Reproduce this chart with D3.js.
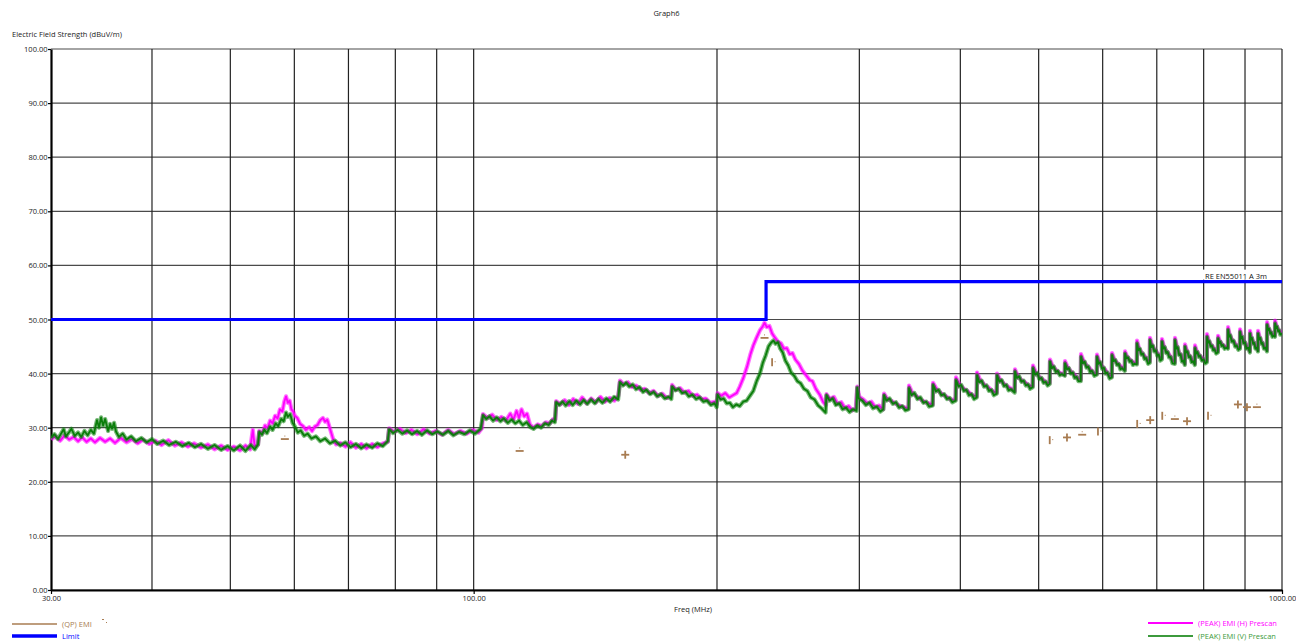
<!doctype html>
<html lang="en">
<head>
<meta charset="utf-8">
<style>
    body { margin: 0; background: #fff; }
    svg { display: block; font-family: "Open Sans", "Noto Sans", sans-serif; }
</style>
</head>
<body>
<div class="chart"></div>

<script src="https://d3js.org/d3.v7.min.js"></script>
<script>

    // ---- data (MHz, dBuV/m) ----

    let yTicks = [0, 10, 20, 30, 40, 50, 60, 70, 80, 90, 100];
    let xTicks = [30, 100, 1000];
    let xGrid = [40, 50, 60, 70, 80, 90, 100, 200, 300, 400, 500, 600, 700, 800, 900, 1000];

    let limitSteps = [[30, 50], [230, 50], [230, 57], [1000, 57]];
    let limitName = 'RE EN55011 A 3m';

    // (PEAK) EMI (H) Prescan
    let peakH = [
        [30.0, 27.9], [30.4, 28.4], [30.8, 27.6], [31.2, 28.6], [31.6, 27.8], [32.0, 28.3], [32.4, 27.5], [32.8, 28.2],
        [33.2, 27.4], [33.6, 28.0], [34.0, 27.3], [34.5, 28.1], [35.0, 27.4], [35.5, 28.0], [36.0, 27.2], [36.6, 28.1],
        [37.2, 27.3], [37.8, 27.9], [38.4, 27.1], [39.0, 27.8], [39.7, 27.0], [40.4, 27.6], [41.1, 26.8], [41.9, 27.7],
        [42.7, 26.7], [43.5, 27.3], [44.3, 26.5], [45.1, 27.1], [46.0, 26.3], [46.9, 26.9], [47.8, 26.0], [48.7, 26.7],
        [49.6, 25.9], [50.5, 26.5], [51.4, 25.8], [52.2, 26.7], [52.9, 26.0], [53.3, 29.6], [53.6, 26.5], [54.1, 26.9],
        [54.3, 29.4], [54.8, 29.0], [55.2, 30.4], [55.6, 29.9], [56.0, 31.3], [56.4, 30.8], [56.8, 32.2], [57.2, 31.7],
        [57.6, 33.4], [58.0, 33.0], [58.3, 34.8], [58.6, 35.8], [58.9, 34.6], [59.2, 35.0], [59.5, 33.4], [59.8, 33.0],
        [60.1, 32.2], [60.5, 31.8], [61.0, 30.7], [61.5, 30.3], [62.0, 29.6], [62.6, 30.1], [63.1, 29.4], [63.6, 30.2],
        [64.1, 30.5], [64.6, 31.4], [65.1, 31.8], [65.5, 31.1], [65.9, 31.5], [66.3, 30.2], [66.7, 28.9], [67.1, 27.6],
        [67.6, 26.9], [68.4, 27.2], [69.4, 26.5], [70.4, 27.3], [71.5, 26.3], [72.6, 27.0], [73.7, 26.2], [74.9, 27.0],
        [76.0, 26.4], [77.2, 27.1], [78.3, 27.4],
        [78.6, 29.9], [79.8, 29.2], [81.0, 29.8], [82.4, 29.0], [83.8, 29.6], [85.2, 28.8], [86.7, 29.7], [88.2, 28.9],
        [89.8, 29.4], [91.4, 28.7], [93.0, 29.6], [94.6, 28.8], [96.3, 29.4], [98.0, 28.9], [99.7, 29.6], [101.4, 29.1],
        [102.4, 29.9],
        [102.7, 32.5], [104.0, 31.8], [105.4, 32.4], [106.8, 31.4], [108.2, 32.0], [109.6, 31.3], [111.0, 32.6], [112.0, 31.5],
        [113.0, 33.1], [113.8, 31.8], [114.6, 33.4], [115.5, 32.1], [116.4, 32.6], [117.4, 30.6], [118.6, 30.0], [120.0, 30.6],
        [121.4, 30.3], [122.8, 31.0], [124.2, 30.8], [125.4, 31.6], [126.2, 31.5],
        [126.5, 34.9], [128.0, 34.3], [129.6, 35.1], [131.2, 34.2], [132.8, 35.3], [134.5, 34.4], [136.2, 35.6], [138.0, 34.5],
        [139.8, 35.4], [141.6, 34.7], [143.5, 35.7], [145.4, 34.8], [147.3, 35.5], [149.3, 35.0], [151.0, 35.9],
        [151.7, 38.7], [153.4, 38.0], [155.2, 38.4], [157.0, 37.5], [158.9, 37.8], [160.8, 37.0], [162.8, 37.2], [164.8, 36.4],
        [166.9, 36.8], [169.0, 35.9], [171.1, 36.3], [173.3, 35.5], [175.5, 35.8],
        [176.0, 37.9], [178.0, 37.0], [180.1, 37.3], [182.2, 36.5], [184.4, 36.8], [186.7, 35.9], [189.0, 36.1], [191.3, 35.3],
        [193.7, 35.4], [196.2, 34.6], [198.7, 34.8], [199.9, 34.3],
        [200.3, 36.4], [202.5, 35.9], [204.8, 36.4], [207.1, 35.6], [209.3, 36.0], [211.5, 36.4], [213.4, 37.6], [215.6, 39.2],
        [218.0, 41.4], [220.0, 43.6], [221.8, 45.2], [223.8, 46.6], [226.0, 48.0], [227.6, 48.6], [229.0, 49.4], [230.5, 48.6],
        [232.2, 48.8], [234.0, 47.4], [236.0, 46.6], [238.0, 45.9], [240.0, 45.6], [242.0, 44.6], [244.0, 44.7], [246.0, 43.6],
        [248.0, 43.8], [250.0, 42.6], [252.5, 41.8], [255.0, 40.6], [258.0, 39.6], [260.5, 38.8], [262.5, 38.6], [265.0, 37.2],
        [268.0, 36.1], [270.5, 34.8], [272.6, 34.2],
        [273.2, 36.2], [276.0, 35.3], [279.0, 35.7], [282.0, 34.4], [285.0, 34.7], [288.0, 33.6], [291.0, 34.0], [294.0, 33.2],
        [297.0, 33.6],
        [298.2, 37.6], [300.0, 35.7], [303.5, 35.2], [307.0, 34.5], [310.5, 34.8], [314.0, 33.8], [317.5, 34.1], [321.0, 33.4],
        [321.9, 36.3], [325, 35.3], [330, 34.8], [335, 34.2], [340, 33.8], [345.2, 33.6],
        [345.6, 37.8], [349, 36.4], [354, 35.7], [359, 35.0], [364, 34.6], [369.7, 34.3],
        [370.1, 38.3], [374, 37.1], [379, 36.3], [384, 35.8], [389, 35.2], [394.7, 35.2],
        [395.1, 39.3], [399, 38.0], [404, 37.2], [409, 36.7], [414, 36.0], [419.1, 35.8],
        [419.5, 40.2], [423, 38.9], [428, 38.0], [433, 37.5], [438, 36.8], [443.7, 36.5],
        [444.1, 40.0], [448, 38.9], [453, 38.1], [458, 37.6], [467.0, 36.8],
        [467.4, 40.8], [471, 39.6], [476, 38.8], [481, 38.4], [486, 37.8], [491.6, 37.7],
        [492.0, 41.5], [496, 40.2], [501, 39.4], [506, 38.9], [511, 38.3], [516.0, 38.3],
        [516.4, 42.6], [520, 41.5], [525, 40.7], [530, 40.2], [538.6, 39.8],
        [539.0, 42.3], [543, 41.2], [548, 40.4], [553, 39.9], [558, 39.2], [563.7, 38.9],
        [564.1, 43.6], [568, 42.4], [573, 41.5], [578, 41.0], [584, 40.2], [590.0, 40.0],
        [590.4, 43.5], [594, 42.3], [599, 41.3], [604, 40.8], [610, 39.8], [615.8, 39.5],
        [616.2, 43.8], [620, 42.7], [625, 42.0], [630, 41.5], [639.1, 40.8],
        [639.5, 44.1], [643, 43.2], [648, 42.6], [653, 42.2], [661.3, 41.9],
        [661.7, 46.1], [665, 44.8], [670, 43.9], [675, 43.4], [681, 42.6], [686.2, 42.3],
        [686.6, 46.6], [690, 45.4], [695, 44.5], [700, 44.0], [705, 43.2], [710.1, 42.9],
        [710.5, 46.4], [714, 45.1], [719, 44.2], [724, 43.7], [730, 42.8], [736.9, 42.1],
        [737.3, 46.6], [741, 45.1], [746, 43.8], [751, 43.3], [758.2, 41.9],
        [758.6, 45.4], [762, 44.4], [767, 43.4], [772, 42.9], [780.2, 41.9],
        [780.6, 45.2], [784, 44.2], [789, 43.5], [795, 43.0], [801, 42.4], [807.3, 42.4],
        [807.7, 47.3], [811, 46.2], [816, 45.4], [821, 45.0], [827, 44.3], [833.1, 44.2],
        [833.5, 47.0], [837, 46.1], [842, 45.5], [848, 45.1], [857.2, 44.9],
        [857.6, 48.6], [861, 47.3], [867, 46.3], [873, 45.8], [880, 45.0], [887.0, 44.9],
        [887.4, 48.2], [891, 47.0], [896, 46.0], [902, 45.5], [912.6, 44.2],
        [913.0, 47.9], [916, 46.8], [921, 45.9], [926, 45.4], [933.7, 44.4],
        [934.1, 47.9], [938, 46.8], [943, 45.9], [949, 45.3], [958.0, 44.4],
        [958.4, 49.5], [962, 48.5], [967, 47.8], [972, 47.4], [980.1, 47.1],
        [980.5, 49.8], [984, 48.9], [989, 48.2], [994, 47.8], [1000, 47.7]
    ];

    // (PEAK) EMI (V) Prescan
    let peakV = [
        [30.0, 28.1], [30.3, 28.8], [30.6, 27.9], [30.9, 29.0], [31.1, 29.7], [31.3, 28.4], [31.6, 29.2], [31.8, 29.8],
        [32.1, 28.5], [32.4, 29.1], [32.7, 28.3], [33.0, 29.4], [33.3, 28.6], [33.6, 29.6], [33.9, 28.9], [34.2, 31.4],
        [34.4, 30.0], [34.6, 31.9], [34.8, 30.4], [35.0, 31.6], [35.3, 29.4], [35.5, 30.7], [35.7, 29.8], [35.9, 30.9],
        [36.1, 29.3], [36.4, 28.3], [36.8, 28.9], [37.2, 27.8], [37.7, 28.4], [38.2, 27.5], [38.8, 28.1], [39.4, 27.3],
        [40.0, 27.9], [40.6, 27.0], [41.3, 27.6], [42.0, 26.8], [42.8, 27.4], [43.6, 26.6], [44.4, 27.2], [45.2, 26.4],
        [46.0, 27.0], [46.9, 26.1], [47.8, 26.8], [48.7, 25.9], [49.6, 26.6], [50.5, 25.8], [51.4, 26.7], [52.2, 25.7],
        [53.0, 26.8], [53.6, 26.0], [54.1, 26.9],
        [54.3, 29.2], [54.7, 28.7], [55.1, 29.6], [55.5, 29.0], [56.0, 30.2], [56.4, 29.6], [56.9, 30.8], [57.3, 30.3],
        [57.8, 31.6], [58.2, 31.2], [58.6, 32.8], [58.9, 32.0], [59.3, 32.5], [59.7, 30.9], [60.1, 30.2], [60.6, 29.1],
        [61.1, 29.5], [61.7, 28.5], [62.3, 28.9], [63.0, 28.0], [63.8, 28.4], [64.6, 27.5], [65.5, 28.0], [66.4, 27.1],
        [67.4, 27.6], [68.4, 26.7], [69.4, 27.3], [70.4, 26.4], [71.5, 27.0], [72.6, 26.2], [73.7, 26.9], [74.9, 26.3],
        [76.0, 27.1], [77.2, 26.6], [78.3, 27.5],
        [78.6, 29.7], [79.5, 29.0], [80.5, 29.6], [81.6, 28.9], [82.7, 29.5], [83.9, 28.8], [85.1, 29.4], [86.3, 28.7],
        [87.6, 29.5], [88.9, 28.8], [90.2, 29.3], [91.6, 28.7], [93.0, 29.4], [94.4, 28.6], [95.9, 29.2], [97.4, 28.8],
        [98.9, 29.5], [100.4, 28.9], [102.0, 29.8],
        [102.7, 32.3], [103.6, 31.6], [104.6, 32.1], [105.7, 31.3], [106.8, 31.9], [107.9, 31.2], [109.0, 31.7], [110.2, 30.9],
        [111.4, 31.5], [112.6, 30.8], [113.8, 31.3], [115.0, 30.5], [116.3, 31.0], [117.5, 30.1], [118.6, 29.8], [119.9, 30.4],
        [121.2, 30.0], [122.5, 30.8], [123.8, 30.5], [125.0, 31.3], [126.0, 31.0],
        [126.5, 34.7], [127.6, 34.2], [128.8, 34.8], [130.0, 34.1], [131.3, 34.9], [132.6, 34.2], [134.0, 35.0], [135.4, 34.3],
        [136.8, 35.1], [138.2, 34.4], [139.7, 35.2], [141.2, 34.5], [142.7, 35.3], [144.3, 34.6], [145.9, 35.4], [147.5, 34.8],
        [149.2, 35.7], [150.9, 35.2],
        [151.7, 38.4], [153.0, 37.8], [154.4, 38.3], [155.8, 37.6], [157.3, 38.0], [158.8, 37.1], [160.4, 37.5], [162.0, 36.6],
        [163.6, 37.0], [165.3, 36.2], [167.0, 36.6], [168.7, 35.8], [170.5, 36.2], [172.3, 35.4], [174.2, 35.7], [175.6, 35.3],
        [176.0, 37.6], [177.6, 36.9], [179.3, 37.2], [181.0, 36.4], [182.8, 36.6], [184.6, 35.8], [186.5, 36.1], [188.4, 35.3],
        [190.4, 35.6], [192.4, 34.8], [194.4, 35.0], [196.5, 34.2], [198.6, 34.5], [199.8, 33.8],
        [200.3, 36.1], [202.0, 35.2], [203.8, 35.4], [205.6, 34.5], [207.4, 34.6], [209.3, 33.8], [211.3, 34.3], [213.4, 34.0],
        [215.5, 34.8], [217.6, 35.0], [219.7, 35.9], [221.8, 36.8], [223.9, 38.6], [226.0, 40.0], [227.9, 42.0], [229.8, 43.4],
        [231.6, 45.0], [233.3, 45.7], [234.8, 46.1], [236.3, 45.5], [237.9, 45.8], [239.5, 44.6], [241.2, 43.9], [243.0, 42.4],
        [245.0, 41.5], [247.0, 40.2], [249.2, 39.6], [251.5, 38.6], [253.8, 38.2], [256.2, 37.2], [258.7, 36.8], [261.3, 35.6],
        [264.0, 35.2], [266.8, 34.1], [269.7, 33.5], [272.5, 32.8],
        [273.2, 36.0], [275.5, 35.0], [278.0, 35.4], [280.6, 34.2], [283.3, 34.5], [286.0, 33.4], [288.8, 33.7], [291.7, 32.9],
        [294.6, 33.4], [297.6, 33.1],
        [298.2, 37.4], [299.5, 35.4], [302.5, 35.0], [305.6, 34.2], [308.7, 34.6], [311.9, 33.6], [315.2, 33.9], [318.5, 33.0],
        [321.2, 33.4],
        [321.9, 36.0], [324, 35.0], [327, 35.4], [330, 34.4], [333, 34.7], [336, 33.7], [339, 34.0], [342, 33.2], [345.2, 33.4],
        [345.6, 37.3], [348, 36.0], [351, 36.4], [354, 35.3], [357, 35.6], [360, 34.6], [363, 34.8], [366, 33.9], [369.7, 34.1],
        [370.1, 37.9], [373, 36.7], [376, 37.0], [379, 36.0], [382, 36.2], [385, 35.3], [388, 35.5], [391, 34.7], [394.7, 35.0],
        [395.1, 38.8], [398, 37.6], [401, 37.9], [404, 36.8], [407, 37.0], [410, 36.0], [413, 36.2], [416, 35.3], [419.1, 35.6],
        [419.5, 39.7], [422, 38.4], [425, 38.7], [428, 37.6], [431, 37.8], [434, 36.8], [437, 37.0], [440, 36.0], [443.7, 36.3],
        [444.1, 39.7], [447, 38.5], [450, 38.8], [453, 37.7], [456, 37.9], [459, 36.9], [462, 37.1], [467.0, 36.5],
        [467.4, 40.4], [470, 39.2], [473, 39.5], [476, 38.5], [479, 38.7], [482, 37.8], [485, 38.0], [488, 37.2], [491.6, 37.5],
        [492.0, 41.0], [495, 39.8], [498, 40.1], [501, 39.0], [504, 39.2], [507, 38.3], [510, 38.5], [513, 37.8], [516.0, 38.1],
        [516.4, 42.2], [519, 41.0], [522, 41.3], [525, 40.3], [528, 40.5], [531, 39.7], [534, 39.9], [538.6, 39.6],
        [539.0, 41.9], [542, 40.8], [545, 41.0], [548, 40.0], [551, 40.2], [554, 39.2], [557, 39.4], [560, 38.6], [563.7, 38.6],
        [564.1, 43.1], [567, 41.9], [570, 42.2], [573, 41.1], [576, 41.3], [579, 40.3], [582, 40.5], [586, 39.6], [590.0, 39.8],
        [590.4, 43.1], [593, 41.8], [596, 42.1], [599, 40.9], [602, 41.1], [605, 40.0], [608, 40.2], [612, 39.1], [615.8, 39.3],
        [616.2, 43.4], [619, 42.3], [622, 42.5], [625, 41.6], [628, 41.8], [631, 40.8], [634, 41.0], [639.1, 40.5],
        [639.5, 43.7], [642, 42.8], [645, 43.0], [648, 42.2], [651, 42.4], [654, 41.6], [657, 41.8], [661.3, 41.7],
        [661.7, 45.6], [664, 44.3], [667, 44.6], [670, 43.5], [673, 43.7], [676, 42.7], [679, 42.9], [683, 41.8], [686.2, 42.0],
        [686.6, 46.2], [689, 44.9], [692, 45.2], [695, 44.1], [698, 44.3], [701, 43.3], [704, 43.5], [707, 42.4], [710.1, 42.6],
        [710.5, 45.9], [713, 44.6], [716, 44.9], [719, 43.8], [722, 44.0], [725, 43.0], [728, 43.1], [732, 41.9], [736.9, 41.8],
        [737.3, 46.2], [740, 44.6], [743, 44.9], [746, 43.4], [749, 43.6], [752, 42.2], [755, 42.4], [758.2, 41.6],
        [758.6, 45.0], [761, 43.9], [764, 44.1], [767, 43.0], [770, 43.2], [773, 42.1], [776, 42.3], [780.2, 41.6],
        [780.6, 44.7], [783, 43.7], [786, 44.0], [789, 43.1], [792, 43.3], [796, 42.4], [800, 42.6], [804, 41.9], [807.3, 42.1],
        [807.7, 46.8], [810, 45.7], [813, 46.0], [816, 45.0], [819, 45.2], [822, 44.3], [825, 44.5], [829, 43.7], [833.1, 43.9],
        [833.5, 46.5], [836, 45.6], [839, 45.9], [842, 45.1], [845, 45.3], [849, 44.6], [853, 44.8], [857.2, 44.6],
        [857.6, 48.1], [860, 46.8], [863, 47.1], [867, 45.9], [871, 46.1], [875, 45.0], [879, 45.2], [883, 44.4], [887.0, 44.6],
        [887.4, 47.7], [890, 46.5], [893, 46.8], [896, 45.6], [900, 45.8], [904, 44.6], [908, 44.8], [912.6, 43.9],
        [913.0, 47.4], [915, 46.3], [918, 46.6], [921, 45.5], [924, 45.7], [927, 44.6], [930, 44.8], [933.7, 44.1],
        [934.1, 47.4], [937, 46.3], [940, 46.6], [943, 45.5], [946, 45.7], [950, 44.6], [954, 44.8], [958.0, 44.1],
        [958.4, 49.0], [961, 48.0], [964, 48.3], [967, 47.4], [970, 47.6], [973, 46.8], [976, 47.0], [980.1, 46.8],
        [980.5, 49.3], [983, 48.4], [986, 48.7], [989, 47.8], [992, 48.0], [995, 47.2], [1000, 47.4]
    ];

    // (QP) EMI final measurements: frequency, level, glyph seen on the plot
    let qpFreq = [58.4, 114, 154, 229, 234, 516, 542, 566, 592, 662, 687, 711, 737, 763, 810, 882, 905, 931];
    let qpLevel = [27.9, 25.7, 25.0, 46.6, 42.1, 27.7, 28.2, 28.7, 29.3, 30.7, 31.4, 32.2, 31.6, 31.2, 32.2, 34.3, 33.8, 33.8];
    let qpGlyph = ['-', '-', '+', '-', '|', '|', '+', '-', '|', '|', '+', '|', '-', '+', '|', '+', '+', '-'];


    function emiChart() {

        let width = 1296;
        let height = 641;
        let plot = {left: 51, right: 1282, top: 49, bottom: 590};
        let colors = {h: '#ff00ff', v: '#0a7d0a', qp: '#a87c52', limit: '#0000ff'};

        function chart(selection) {

            let svg = selection.append('svg')
                .attr('width', width)
                .attr('height', height);

            let x = d3.scaleLog().domain([30, 1000]).range([plot.left, plot.right]);
            let y = d3.scaleLinear().domain([0, 100]).range([plot.bottom, plot.top]);

            svg.append('defs').append('clipPath').attr('id', 'plotClip')
                .append('rect')
                .attr('x', plot.left).attr('y', plot.top - 2)
                .attr('width', plot.right - plot.left).attr('height', plot.bottom - plot.top + 2);

            // grid
            let grid = svg.append('g').attr('class', 'grid');
            grid.selectAll('line.h').data(yTicks).join('line')
                .attr('class', 'h')
                .attr('x1', plot.left).attr('x2', plot.right)
                .attr('y1', d => y(d)).attr('y2', d => y(d))
                .attr('stroke', '#4a4a4a').attr('stroke-width', 1.2);
            grid.selectAll('line.v').data(xGrid).join('line')
                .attr('class', 'v')
                .attr('x1', d => x(d)).attr('x2', d => x(d))
                .attr('y1', plot.top).attr('y2', plot.bottom)
                .attr('stroke', '#222').attr('stroke-width', 1.2);

            // axes
            let yAxis = d3.axisLeft(y).tickValues(yTicks).tickFormat(d3.format('.2f')).tickSize(3).tickSizeOuter(0);
            let xAxis = d3.axisBottom(x).tickValues(xTicks).tickFormat(d3.format('.2f')).tickSize(4).tickSizeOuter(0);

            let gy = svg.append('g').attr('transform', `translate(${plot.left},0)`).call(yAxis);
            let gx = svg.append('g').attr('transform', `translate(0,${plot.bottom})`).call(xAxis);

            [gx, gy].forEach(g => {
                g.select('.domain').attr('stroke', '#000').attr('stroke-width', 2.2);
                g.selectAll('.tick line').attr('stroke', '#000').attr('stroke-width', 1.2);
                g.selectAll('.tick text').attr('fill', '#222').style('font-size', '7.5px')
                    .style('font-family', '"Open Sans", sans-serif');
            });
            gy.selectAll('.tick text').attr('x', -3.5).attr('dy', '0.34em');
            gx.selectAll('.tick text').attr('y', 6);

            // traces: a wide soft stroke for the noise band and a firmer core on top
            let line = d3.line().x(d => x(d[0])).y(d => y(d[1]));
            let traces = svg.append('g').attr('clip-path', 'url(#plotClip)');

            [[peakH, colors.h], [peakV, colors.v]].forEach(([data, c]) => {
                traces.append('path').datum(data)
                    .attr('d', line).attr('fill', 'none')
                    .attr('stroke', c).attr('stroke-opacity', 0.55)
                    .attr('stroke-width', 4.2).attr('stroke-linejoin', 'round');
                traces.append('path').datum(data)
                    .attr('d', line).attr('fill', 'none')
                    .attr('stroke', c).attr('stroke-width', 1.8).attr('stroke-linejoin', 'round');
            });

            // limit
            traces.append('path').datum(limitSteps)
                .attr('d', line).attr('fill', 'none')
                .attr('stroke', colors.limit).attr('stroke-width', 3.2);

            let lx = x(1000) - 77;
            let ly = y(57) - 3;
            svg.append('rect').attr('x', lx - 2).attr('y', ly - 9).attr('width', 64).attr('height', 10).attr('fill', '#fff');
            svg.append('text').attr('x', lx).attr('y', ly)
                .style('font-size', '7.5px').attr('fill', '#111').text(limitName);

            // QP marks
            let qp = qpFreq.map((f, i) => ({f: f, v: qpLevel[i], g: qpGlyph[i]}));
            let marks = svg.append('g').attr('stroke', colors.qp).attr('stroke-width', 1.8);
            marks.selectAll('g').data(qp).join('g')
                .attr('transform', d => `translate(${x(d.f)},${y(d.v)})`)
                .each(function (d) {
                    let g = d3.select(this);
                    if (d.g !== '|') g.append('line').attr('x1', -4).attr('x2', 4).attr('y1', 0).attr('y2', 0);
                    if (d.g !== '-') g.append('line').attr('x1', 0).attr('x2', 0).attr('y1', -4).attr('y2', 4);
                    if (d.g === '|') g.append('rect').attr('x', 2.5).attr('y', -1).attr('width', 1).attr('height', 1)
                        .attr('stroke', 'none').attr('fill', colors.qp);
                    if (d.g === '-') g.append('rect').attr('x', -0.5).attr('y', -3.5).attr('width', 1).attr('height', 1)
                        .attr('stroke', 'none').attr('fill', colors.qp);
                });

            // titles
            svg.append('text').attr('x', (plot.left + plot.right) / 2).attr('y', 16)
                .attr('text-anchor', 'middle').style('font-size', '7.5px').attr('fill', '#222').text('Graph6');
            svg.append('text').attr('x', 12).attr('y', 37)
                .style('font-size', '7.5px').attr('fill', '#222').text('Electric Field Strength (dBuV/m)');
            svg.append('text').attr('x', 693).attr('y', 612)
                .attr('text-anchor', 'middle').style('font-size', '7.5px').attr('fill', '#222').text('Freq (MHz)');

            // legend
            let legend = [
                {x: 12, y: 624, c: colors.qp, w: 1.5, t: '(QP) EMI'},
                {x: 12, y: 636, c: colors.limit, w: 3.5, t: 'Limit'},
                {x: 1148, y: 623, c: colors.h, w: 1.8, t: '(PEAK) EMI (H) Prescan'},
                {x: 1148, y: 636, c: '#3c9a3c', w: 1.8, t: '(PEAK) EMI (V) Prescan'}
            ];
            let lg = svg.append('g').selectAll('g').data(legend).join('g');
            lg.append('line')
                .attr('x1', d => d.x).attr('x2', d => d.x + 45)
                .attr('y1', d => d.y).attr('y2', d => d.y)
                .attr('stroke', d => d.c).attr('stroke-width', d => d.w);
            lg.append('text')
                .attr('x', d => d.x + 50).attr('y', d => d.y + 3)
                .style('font-size', '7.5px').attr('fill', d => d.c).text(d => d.t);

            // little glyph sample after "(QP) EMI"
            svg.append('rect').attr('x', 102).attr('y', 619).attr('width', 2).attr('height', 1).attr('fill', colors.qp);
            svg.append('rect').attr('x', 106).attr('y', 622).attr('width', 1).attr('height', 1).attr('fill', colors.qp);
        }

        return chart;
    }

    d3.select('.chart').call(emiChart());

</script>
</body>
</html>
